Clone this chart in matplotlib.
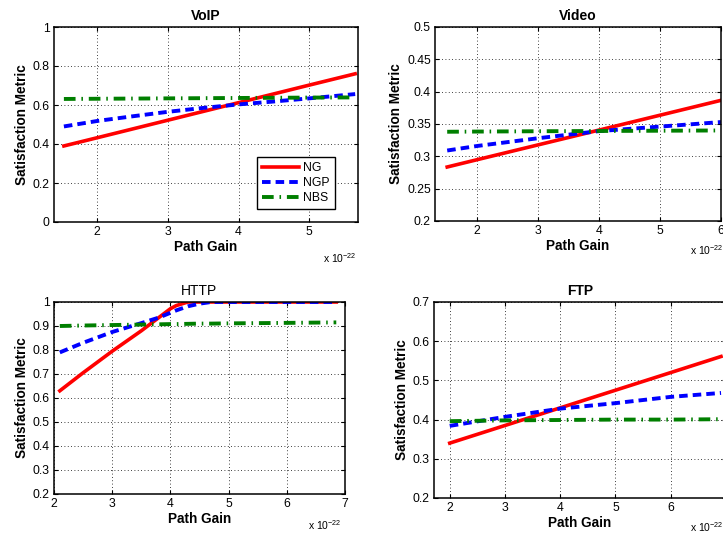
import matplotlib
matplotlib.use("Agg")
import matplotlib.pyplot as plt
from matplotlib.ticker import FuncFormatter

plt.rcParams['font.family'] = ['Liberation Sans', 'DejaVu Sans']
plt.rcParams['mathtext.fontset'] = 'custom'
plt.rcParams['mathtext.rm'] = 'Liberation Sans'

# -----------------------------
# Daten (Path Gain in 1e-22)
# -----------------------------

voip_x = [1.53, 2, 2.5, 3, 3.5, 4, 4.5, 5, 5.65]
voip_ng = [0.39, 0.432, 0.477, 0.522, 0.567, 0.612, 0.657, 0.702, 0.76]
voip_ngp = [0.49, 0.518, 0.542, 0.565, 0.585, 0.603, 0.618, 0.634, 0.656]
voip_nbs = [0.631, 0.632, 0.633, 0.634, 0.635, 0.636, 0.637, 0.638, 0.639]

video_x = [1.51, 2, 3, 4, 5, 6]
video_ng = [0.2835, 0.2948, 0.3177, 0.3406, 0.3636, 0.3866]
video_ngp = [0.309, 0.316, 0.328, 0.339, 0.346, 0.353]
video_nbs = [0.338, 0.3383, 0.3388, 0.3392, 0.3396, 0.340]

http_x = [2.1, 2.5, 3, 3.5, 3.8, 4.0, 4.1, 4.3, 4.5, 4.7, 5, 6, 6.85]
http_ng = [0.63, 0.705, 0.795, 0.88, 0.935, 0.972, 0.985, 1.0, 1.0, 1.0, 1.0, 1.0, 1.0]
http_ngp = [0.79, 0.83, 0.875, 0.912, 0.935, 0.955, 0.965, 0.982, 0.993, 1.0, 1.0, 1.0, 1.0]
http_nbs = [0.90, 0.902, 0.904, 0.906, 0.907, 0.908, 0.908, 0.909, 0.91, 0.91, 0.911, 0.913, 0.915]

ftp_x = [2, 3, 4, 5, 6, 6.91]
ftp_ng = [0.34, 0.385, 0.43, 0.475, 0.52, 0.561]
ftp_ngp = [0.384, 0.407, 0.428, 0.442, 0.458, 0.468]
ftp_nbs = [0.396, 0.398, 0.399, 0.400, 0.400, 0.401]

serien_namen = ["NG", "NGP", "NBS"]

# -----------------------------
# Layout in Pixeln
# -----------------------------

W, H = 723, 533


def rect(l, r, t, b):
    return [l / W, 1 - b / H, (r - l) / W, (b - t) / H]


panels = [
    dict(titel="VoIP", bold=True, x=voip_x, ys=(voip_ng, voip_ngp, voip_nbs),
         box=(54, 358, 27, 222), xlim=(1.39, 5.69), ylim=(0, 1),
         xt=[2, 3, 4, 5], yt=[0, 0.2, 0.4, 0.6, 0.8, 1], exp=(323, 258)),
    dict(titel="Video", bold=True, x=video_x, ys=(video_ng, video_ngp, video_nbs),
         box=(435, 721, 27, 221), xlim=(1.31, 6.0), ylim=(0.2, 0.5),
         xt=[2, 3, 4, 5, 6], yt=[0.2, 0.25, 0.3, 0.35, 0.4, 0.45, 0.5], exp=(690, 250)),
    dict(titel="HTTP", bold=False, x=http_x, ys=(http_ng, http_ngp, http_nbs),
         box=(54, 345, 302, 494), xlim=(2, 7), ylim=(0.2, 1),
         xt=[2, 3, 4, 5, 6, 7], yt=[0.2, 0.3, 0.4, 0.5, 0.6, 0.7, 0.8, 0.9, 1], exp=(308, 525)),
    dict(titel="FTP", bold=True, x=ftp_x, ys=(ftp_ng, ftp_ngp, ftp_nbs),
         box=(434, 726, 302, 498), xlim=(1.715, 7.0), ylim=(0.2, 0.7),
         xt=[2, 3, 4, 5, 6, 7], yt=[0.2, 0.3, 0.4, 0.5, 0.6, 0.7], exp=(690, 527)),
]

stile = [
    dict(color="#ff0000", linestyle="-", linewidth=2.6),
    dict(color="#0000ff", linestyle=(0, (2.2, 1.3)), linewidth=2.8),
    dict(color="#007f00", linestyle=(0, (3.0, 1.5, 0.4, 1.5)), linewidth=2.8),
]

fig = plt.figure(figsize=(W / 100, H / 100), dpi=100)

fmt = FuncFormatter(lambda v, _: "%g" % round(v, 4))

for i, p in enumerate(panels):
    ax = fig.add_axes(rect(*p["box"]))
    for y, st, name in zip(p["ys"], stile, serien_namen):
        ax.plot(p["x"], y, label=name, **st)
    ax.set_xlim(*p["xlim"])
    ax.set_ylim(*p["ylim"])
    ax.set_xticks(p["xt"])
    ax.set_yticks(p["yt"])
    ax.yaxis.set_major_formatter(fmt)
    ax.xaxis.set_major_formatter(fmt)
    ax.grid(True, color="black", linestyle=(0, (1, 3)), linewidth=0.6)
    ax.tick_params(direction="in", length=3, width=0.8, labelsize=8.8,
                   top=True, right=True, pad=3)
    for s in ax.spines.values():
        s.set_linewidth(1.1)
    ax.set_title(p["titel"], fontsize=10,
                 fontweight="bold" if p["bold"] else "normal", pad=5)
    ax.set_xlabel("Path Gain", fontsize=9.8, fontweight="bold", labelpad=1)
    ax.set_ylabel("Satisfaction Metric", fontsize=9.8, fontweight="bold", labelpad=3)
    ex, ey = p["exp"]
    fig.text(ex / W, 1 - ey / H, r"x 10$^{-22}$", fontsize=7.5, va="center", ha="left")

    if i == 0:
        l, r, t, b = p["box"]
        leg = ax.legend(loc="upper left",
                        bbox_to_anchor=((257 - l) / (r - l), (b - 157) / (b - t)),
                        borderaxespad=0, fontsize=8.8, handlelength=3.0,
                        fancybox=False, edgecolor="black", framealpha=1,
                        labelspacing=0.25, borderpad=0.4, handletextpad=0.4)
        leg.get_frame().set_linewidth(1.0)

fig.savefig("out.png", dpi=100)
